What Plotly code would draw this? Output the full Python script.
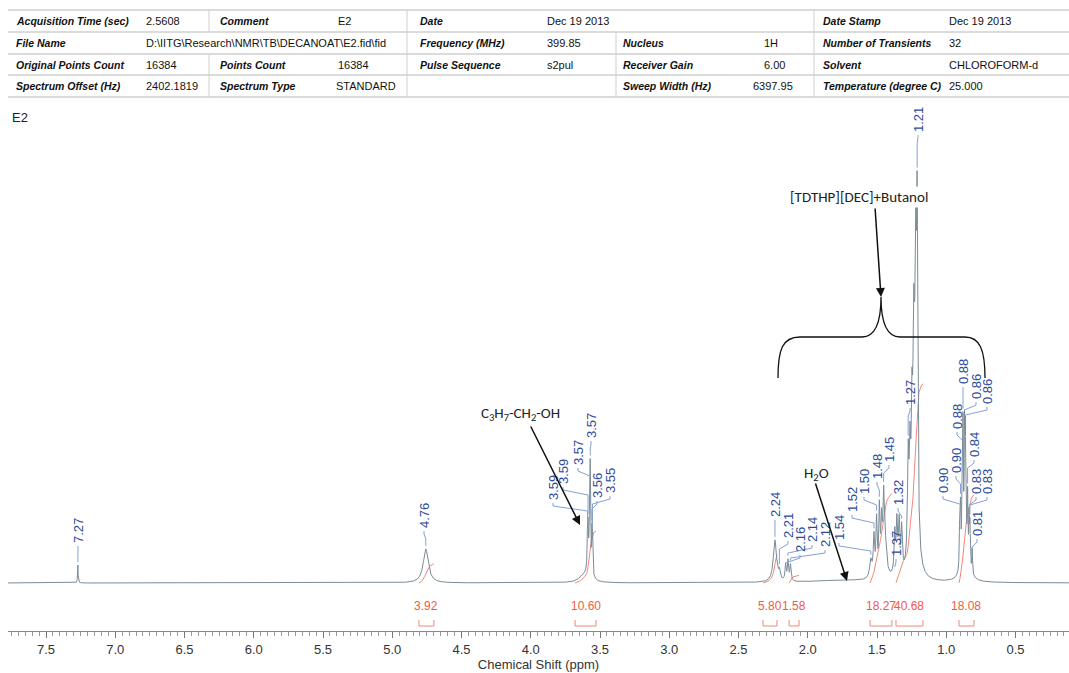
import numpy as np
import plotly.graph_objects as go

# ---------------- data ----------------
# spectrum peak list: position (ppm), height (px above baseline), half-width (ppm)
peak_ppm = [7.270, 4.758, 3.620, 3.578, 3.5905, 3.5865, 3.5745, 3.5705, 3.5585, 3.5545,
            2.237, 2.205, 2.160, 2.143, 2.125, 1.75,
            1.545, 1.522, 1.503, 1.483, 1.467, 1.452, 1.440,
            1.372, 1.357, 1.340, 1.322, 1.350,
            1.275, 1.262, 1.248, 1.235, 1.220, 1.210, 1.228,
            0.903, 0.897, 0.885, 0.879, 0.868, 0.862, 0.846, 0.835, 0.829, 0.813, 0.862]
peak_height = [18, 34, 6, 22, 30, 32, 70, 80, 35, 32,
               42, 8, 16, 20, 16, 2.5,
               18, 40, 55, 65, 50, 70, 30,
               38, 42, 42, 42, 15,
               100, 90, 110, 130, 200, 290, 120,
               50, 55, 110, 115, 105, 100, 60, 45, 40, 25, 40]
peak_hwhm = [0.0025, 0.022, 0.04, 0.015, 0.0025, 0.0025, 0.0025, 0.0025, 0.0025, 0.0025,
             0.014, 0.006, 0.005, 0.005, 0.005, 0.25,
             0.01, 0.006, 0.005, 0.005, 0.006, 0.006, 0.012,
             0.005, 0.005, 0.005, 0.005, 0.02,
             0.006, 0.006, 0.006, 0.006, 0.006, 0.005, 0.016,
             0.0028, 0.0028, 0.0028, 0.0028, 0.0028, 0.0028, 0.0028, 0.0028, 0.0028, 0.0028, 0.022]

# peak picking labels (text, ppm of the picked line)
label_text = ["7.27", "4.76", "3.59", "3.59", "3.57", "3.57", "3.56", "3.55",
              "2.24", "2.21", "2.16", "2.14", "2.12", "1.54", "1.52", "1.50", "1.48", "1.45",
              "1.37", "1.32", "1.27", "1.21",
              "0.90", "0.90", "0.88", "0.88", "0.86", "0.86", "0.84", "0.83", "0.83", "0.81"]
label_ppm = [7.270, 4.758, 3.5905, 3.5865, 3.5745, 3.5705, 3.5585, 3.5545,
             2.237, 2.205, 2.160, 2.143, 2.125, 1.545, 1.522, 1.503, 1.483, 1.452,
             1.372, 1.322, 1.275, 1.210,
             0.903, 0.897, 0.885, 0.879, 0.868, 0.862, 0.846, 0.835, 0.829, 0.813]

# integrals
integ_value = [3.92, 10.60, 5.80, 1.58, 18.27, 40.68, 18.08]
integ_from = [4.807, 3.680, 2.323, 2.135, 1.550, 1.363, 0.908]
integ_to = [4.699, 3.529, 2.222, 2.063, 1.392, 1.168, 0.800]

# x-axis ticks
tick_vals = [7.5, 7.0, 6.5, 6.0, 5.5, 5.0, 4.5, 4.0, 3.5, 3.0, 2.5, 2.0, 1.5, 1.0, 0.5]
tick_text = ["7.5", "7.0", "6.5", "6.0", "5.5", "5.0", "4.5", "4.0", "3.5", "3.0", "2.5", "2.0", "1.5", "1.0", "0.5"]

# parameter table rows: (text, is_label)
table_rows = [
    [("Acquisition Time (sec)", 1), ("2.5608", 0), ("Comment", 1), ("E2", 0), ("Date", 1),
     ("Dec 19 2013", 0), ("Date Stamp", 1), ("Dec 19 2013", 0)],
    [("File Name", 1), (r"D:\IITG\Research\NMR\TB\DECANOAT\E2.fid\fid", 0), ("Frequency (MHz)", 1),
     ("399.85", 0), ("Nucleus", 1), ("1H", 0), ("Number of Transients", 1), ("32", 0)],
    [("Original Points Count", 1), ("16384", 0), ("Points Count", 1), ("16384", 0), ("Pulse Sequence", 1),
     ("s2pul", 0), ("Receiver Gain", 1), ("6.00", 0), ("Solvent", 1), ("CHLOROFORM-d", 0)],
    [("Spectrum Offset (Hz)", 1), ("2402.1819", 0), ("Spectrum Type", 1), ("STANDARD", 0),
     ("Sweep Width (Hz)", 1), ("6397.95", 0), ("Temperature (degree C)", 1), ("25.000", 0)],
]

# ---------------- layout helpers (pixel -> axis units) ----------------
W, H = 1069, 673
AX_Y = 631           # pixel row of the x axis
PX0, PPM_PER_PX = 46, 1 / 138.5


def X(px):
    return 7.5 - (px - PX0) * PPM_PER_PX


def Y(py):
    return AX_Y - py


def PXof(ppm):
    return PX0 + (7.5 - ppm) / PPM_PER_PX


BASE = Y(583)

# table column x positions per row (layout)
table_cols = [
    [14, 144, 218, 336, 418, 545, 821, 947],
    [14, 144, 418, 545, 621, 762, 821, 947],
    [14, 144, 218, 336, 418, 545, 621, 762, 821, 947],
    [14, 144, 218, 334, 621, 751, 821, 947],
]
row_y = [21, 43, 64.5, 86]
row_lines = [10, 32, 54, 75, 97]

# label slots (pixel positions of the rotated labels: centre x, centre y)
label_slot = [(78, 531), (424, 516), (553, 488), (563, 472), (578, 453), (591, 426), (597, 486), (610, 481),
              (775, 505), (788, 526), (800, 540), (812, 530), (825, 535), (839, 528), (852, 500),
              (864, 482), (877, 467), (889, 450), (896, 544), (898, 493), (910, 393), (918, 120),
              (943, 481), (956, 461), (957, 417), (963, 372), (976, 387), (987, 392), (974, 445),
              (976, 482), (987, 482), (977, 524)]
LABEL_HALF = 14

# ---------------- spectrum ----------------
x = np.arange(0.10, 7.80, 0.0006)[::-1]
spec = np.full_like(x, BASE, dtype=float)
for p, h, w in zip(peak_ppm, peak_height, peak_hwhm):
    spec += h * w * w / (w * w + (x - p) ** 2)


def spec_at(ppm):
    m = np.abs(x - ppm) < 0.0015
    return spec[m].max()


fig = go.Figure()

# integral curves
ix, iy = [], []
for v, a, b in zip(integ_value, integ_from, integ_to):
    m = (x <= a) & (x >= b)
    seg = spec[m] - BASE
    cum = np.cumsum(seg)
    cum = cum / cum[-1]
    ix += list(x[m]) + [None]
    iy += list(BASE + v * 4.9 * cum) + [None]
fig.add_trace(go.Scatter(x=ix, y=iy, mode="lines", line=dict(color="#f3877a", width=1),
                         hoverinfo="skip", showlegend=False))

fig.add_trace(go.Scatter(x=x, y=spec, mode="lines", line=dict(color="#7a8c98", width=1),
                         hoverinfo="skip", showlegend=False))

# label leaders
lx, ly = [], []
for (sx, sy), p in zip(label_slot, label_ppm):
    yb = sy + LABEL_HALF
    pxp = PXof(p)
    top = AX_Y - spec_at(p)
    end = max(yb + 9, top - 3)
    for (a, b) in [(sx, yb + 1), (sx, yb + 4), (pxp, yb + 9), (pxp, end)]:
        lx.append(X(a))
        ly.append(Y(b))
    lx.append(None)
    ly.append(None)
fig.add_trace(go.Scatter(x=lx, y=ly, mode="lines", line=dict(color="#86a0d6", width=1),
                         hoverinfo="skip", showlegend=False))

ann = []
shapes = []
FONT = "Liberation Sans, Arial, sans-serif"

for (sx, sy), t in zip(label_slot, label_text):
    ann.append(dict(x=X(sx), y=Y(sy), text=t, textangle=-90, showarrow=False,
                    font=dict(family=FONT, size=13, color="#2c4a9c"), xanchor="center", yanchor="middle"))

# integral labels and brackets
for v, a, b in zip(integ_value, integ_from, integ_to):
    ann.append(dict(x=(a + b) / 2, y=Y(606), text=f"{v:.2f}", showarrow=False,
                    font=dict(family=FONT, size=12, color="#ef5a44"), xanchor="center", yanchor="middle"))
    shapes.append(dict(type="path", xref="x", yref="y",
                       path=f"M {a},{Y(620)} L {a},{Y(626)} L {b},{Y(626)} L {b},{Y(620)}",
                       line=dict(color="#f3877a", width=1)))

# table
for r, (cells, cols) in enumerate(zip(table_rows, table_cols)):
    for (t, is_lab), cx in zip(cells, cols):
        txt = f"<b><i>{t}</i></b>" if is_lab else t
        ann.append(dict(x=X(cx), y=Y(row_y[r]), text=txt, showarrow=False, xanchor="left", yanchor="middle",
                        font=dict(family=FONT, size=10.5 if is_lab else 11, color="#111111")))
for yl in row_lines:
    shapes.append(dict(type="line", xref="x", yref="y", x0=X(7), x1=X(1069), y0=Y(yl), y1=Y(yl),
                       line=dict(color="#cfcfcf", width=1.5)))
for vx, rows in [(209, [0, 2, 3]), (407, [0, 1, 2, 3]), (616, [1, 2, 3]), (814, [0, 1, 2, 3])]:
    for r in rows:
        shapes.append(dict(type="line", xref="x", yref="y", x0=X(vx), x1=X(vx),
                           y0=Y(row_lines[r]), y1=Y(row_lines[r + 1]),
                           line=dict(color="#cfcfcf", width=1)))

ann.append(dict(x=X(10), y=Y(117), text="E2", showarrow=False, xanchor="left", yanchor="middle",
                font=dict(family=FONT, size=13, color="#222222")))

# chemical annotations
CAL = "Carlito, Lato, Open Sans, sans-serif"
ann.append(dict(x=X(859), y=Y(197), text="[TDTHP][DEC]+Butanol", showarrow=False, bgcolor="white",
                font=dict(family=CAL, size=15, color="#222222"), xanchor="center", yanchor="middle"))
ann.append(dict(x=X(520), y=Y(414), text="C<sub>3</sub>H<sub>7</sub>-CH<sub>2</sub>-OH", showarrow=False,
                font=dict(family=CAL, size=15, color="#222222"), xanchor="center", yanchor="middle"))
ann.append(dict(x=X(816), y=Y(474), text="H<sub>2</sub>O", showarrow=False,
                font=dict(family=CAL, size=15, color="#222222"), xanchor="center", yanchor="middle"))
for (tx, ty, hx, hy) in [(875, 207, 881, 297), (530, 425, 580, 525), (815, 482, 847, 581)]:
    ann.append(dict(x=X(hx), y=Y(hy), ax=X(tx), ay=Y(ty), axref="x", ayref="y", xref="x", yref="y",
                    text="", showarrow=True, arrowhead=2, arrowsize=1.2, arrowwidth=1.5, arrowcolor="#111111"))

# curly brace
pts = [(778, 378), (778, 350), (782, 337), (800, 337), (862, 337), (876, 337), (881, 320), (881, 297),
       (881, 320), (886, 337), (900, 337), (965, 337), (980, 337), (985, 350), (985, 378)]
P = [(X(a), Y(b)) for a, b in pts]
path = (f"M {P[0][0]},{P[0][1]} C {P[1][0]},{P[1][1]} {P[2][0]},{P[2][1]} {P[3][0]},{P[3][1]} "
        f"L {P[4][0]},{P[4][1]} C {P[5][0]},{P[5][1]} {P[6][0]},{P[6][1]} {P[7][0]},{P[7][1]} "
        f"C {P[8][0]},{P[8][1]} {P[9][0]},{P[9][1]} {P[10][0]},{P[10][1]} "
        f"L {P[11][0]},{P[11][1]} C {P[12][0]},{P[12][1]} {P[13][0]},{P[13][1]} {P[14][0]},{P[14][1]}")
shapes.append(dict(type="path", xref="x", yref="y", path=path, line=dict(color="#111111", width=1.3)))

fig.update_layout(
    width=W, height=H, margin=dict(l=8, r=0, t=0, b=H - AX_Y),
    paper_bgcolor="white", plot_bgcolor="white",
    annotations=ann, shapes=shapes, showlegend=False,
    xaxis=dict(range=[X(8), X(1069)], tickvals=tick_vals, ticktext=tick_text,
               ticks="outside", ticklen=6, tickcolor="#777777", showline=True, linecolor="#888888",
               showgrid=False, zeroline=False,
               minor=dict(dtick=0.05, tick0=0, ticks="outside", ticklen=4, tickcolor="#999999"),
               tickfont=dict(family=FONT, size=13, color="#333333"),
               title=dict(text="Chemical Shift (ppm)", font=dict(family=FONT, size=13, color="#333333"),
                          standoff=2)),
    yaxis=dict(range=[0, AX_Y], visible=False, showgrid=False, zeroline=False),
)

fig.write_html("out.html")
